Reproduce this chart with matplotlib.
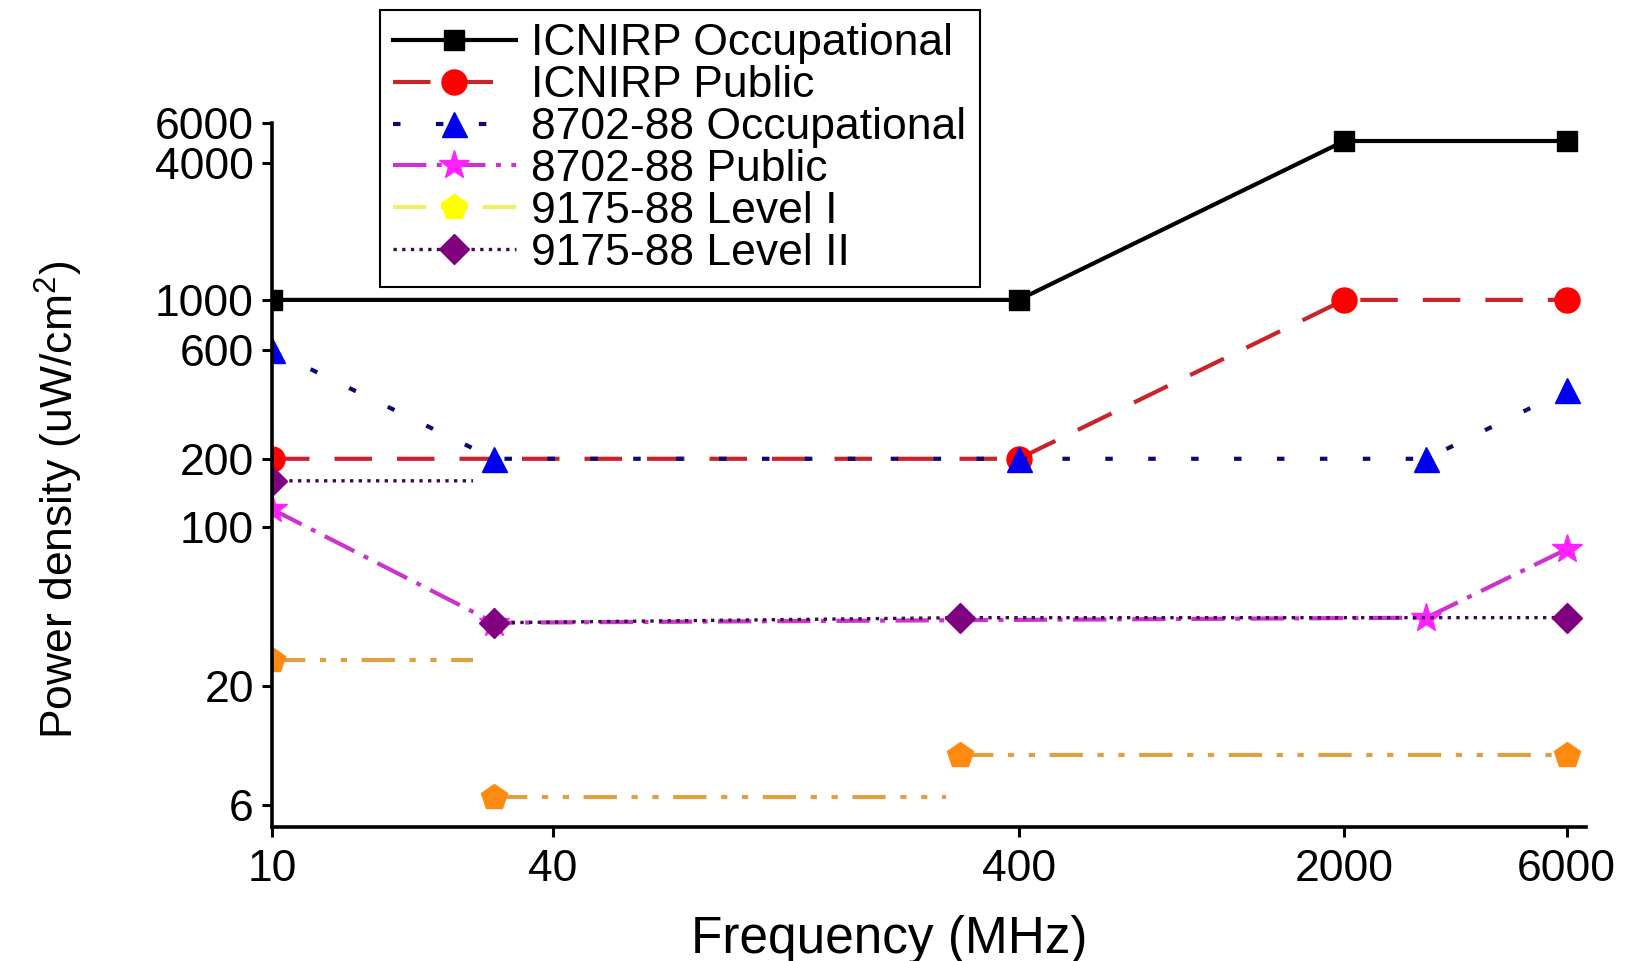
import numpy as np
import matplotlib
matplotlib.use('Agg')
import matplotlib.pyplot as plt
from matplotlib.lines import Line2D
from matplotlib.ticker import FixedLocator, FixedFormatter, NullLocator

plt.rcParams['font.family'] = ['Liberation Sans', 'DejaVu Sans']
plt.rcParams['mathtext.fontset'] = 'custom'
plt.rcParams['mathtext.rm'] = 'Liberation Sans'
plt.rcParams['mathtext.it'] = 'Liberation Sans'

# ICNIRP limits
freq_icnirp = [10, 400, 2000, 6000]
icnirp_occ = [1000, 1000, 5000, 5000]
icnirp_pub = [200, 200, 1000, 1000]

# GB 8702-88 limits
freq_8702_occ = [10, 30, 400, 3000, 6000]
occ_8702 = [600, 200, 200, 200, 400]
freq_8702_pub = [10, 30, 3000, 6000]
pub_8702 = [120, 38, 40, 80]

# GB 9175-88 limits (nan = break between bands)
freq_l1 = [10, 27, np.nan, 30, 280, np.nan, 300, 6000]
level1 = [26, 26, np.nan, 6.5, 6.5, np.nan, 10, 10]
freq_l2 = [10, 27, np.nan, 30, 300, 6000]
level2 = [160, 160, np.nan, 38, 40, 40]

x_ticks = [10, 40, 400, 2000, 6000]
y_ticks = [6, 20, 100, 200, 600, 1000, 4000, 6000]

fig = plt.figure(figsize=(16.27, 9.61), dpi=100)
ax = fig.add_axes([272 / 1627, 1 - 827 / 961, (1586 - 272) / 1627, (827 - 123) / 961])

lw = 3
ls_l1 = (0, (8, 3.5, 1.5, 3.5, 1.5, 3.5))
h1, = ax.plot(freq_icnirp, icnirp_occ, color='black', lw=lw, marker='s', ms=15,
              label='ICNIRP Occupational')
h2, = ax.plot(freq_icnirp, icnirp_pub, color='#c8242a', lw=lw, ls=(0, (9, 6)),
              marker='o', ms=18, mfc='#ff0000', mec='#ff0000', label='ICNIRP Public')
h3, = ax.plot(freq_8702_occ, occ_8702, color='#0a0a70', lw=lw, ls=(0, (1.8, 8.5)),
              marker='^', ms=18, mfc='#0000ee', mec='#0000ee',
              label='8702-88 Occupational')
h4, = ax.plot(freq_8702_pub, pub_8702, color='#cc33cc', lw=lw, ls=(0, (8, 2.5, 1.2, 2.5)),
              marker='*', ms=22, mfc='#ff22ff', mec='#ff22ff', label='8702-88 Public')
h5, = ax.plot(freq_l1, level1, color='#e0a040', lw=lw, ls=ls_l1,
              marker='p', ms=19, mfc='#ff8a10', mec='#ff8a10', markevery=[0, 3, 6, 7],
              label='9175-88 Level I')
h6, = ax.plot(freq_l2, level2, color='#3a0a50', lw=2.4, ls=(0, (1, 1.6)),
              marker='D', ms=15, mfc='#800080', mec='#800080', markevery=[0, 3, 4, 5],
              label='9175-88 Level II')

ax.set_xscale('log')
ax.set_yscale('log')
ax.set_xlim(10, 6600)
ax.set_ylim(4.8, 6000)

ax.xaxis.set_major_locator(FixedLocator(x_ticks))
ax.xaxis.set_major_formatter(FixedFormatter([str(v) for v in x_ticks]))
ax.xaxis.set_minor_locator(NullLocator())
ax.yaxis.set_major_locator(FixedLocator(y_ticks))
ax.yaxis.set_major_formatter(FixedFormatter([str(v) for v in y_ticks]))
ax.yaxis.set_minor_locator(NullLocator())

for side in ['top', 'right']:
    ax.spines[side].set_visible(False)
for side in ['left', 'bottom']:
    ax.spines[side].set_linewidth(2.6)

ax.tick_params(direction='out', length=7, width=2.2, labelsize=32, pad=6)
ax.tick_params(axis='x', pad=9)

ax.set_xlabel('Frequency (MHz)', fontsize=37)
ax.xaxis.set_label_coords(0.47, -0.125)
ax.set_ylabel('Power density (uW/cm$^2$)', fontsize=32)
ax.yaxis.set_label_coords(-0.142, 0.464)

# legend shows Level I in yellow
h5_leg = Line2D([], [], color='#f0f060', lw=lw, ls=ls_l1,
                marker='p', ms=19, mfc='#ffff00', mec='#ffff00')
leg = fig.legend([h1, h2, h3, h4, h5_leg, h6],
                 ['ICNIRP Occupational', 'ICNIRP Public', '8702-88 Occupational',
                  '8702-88 Public', '9175-88 Level I', '9175-88 Level II'],
                 loc='upper left', bbox_to_anchor=(380 / 1627, 1 - 10 / 961),
                 fontsize=32, frameon=True, fancybox=False, framealpha=1,
                 edgecolor='black', handlelength=2.75, labelspacing=0.02,
                 borderpad=0.3, handletextpad=0.35, borderaxespad=0)
leg.get_frame().set_linewidth(1.5)

fig.savefig('out.png', dpi=100)
